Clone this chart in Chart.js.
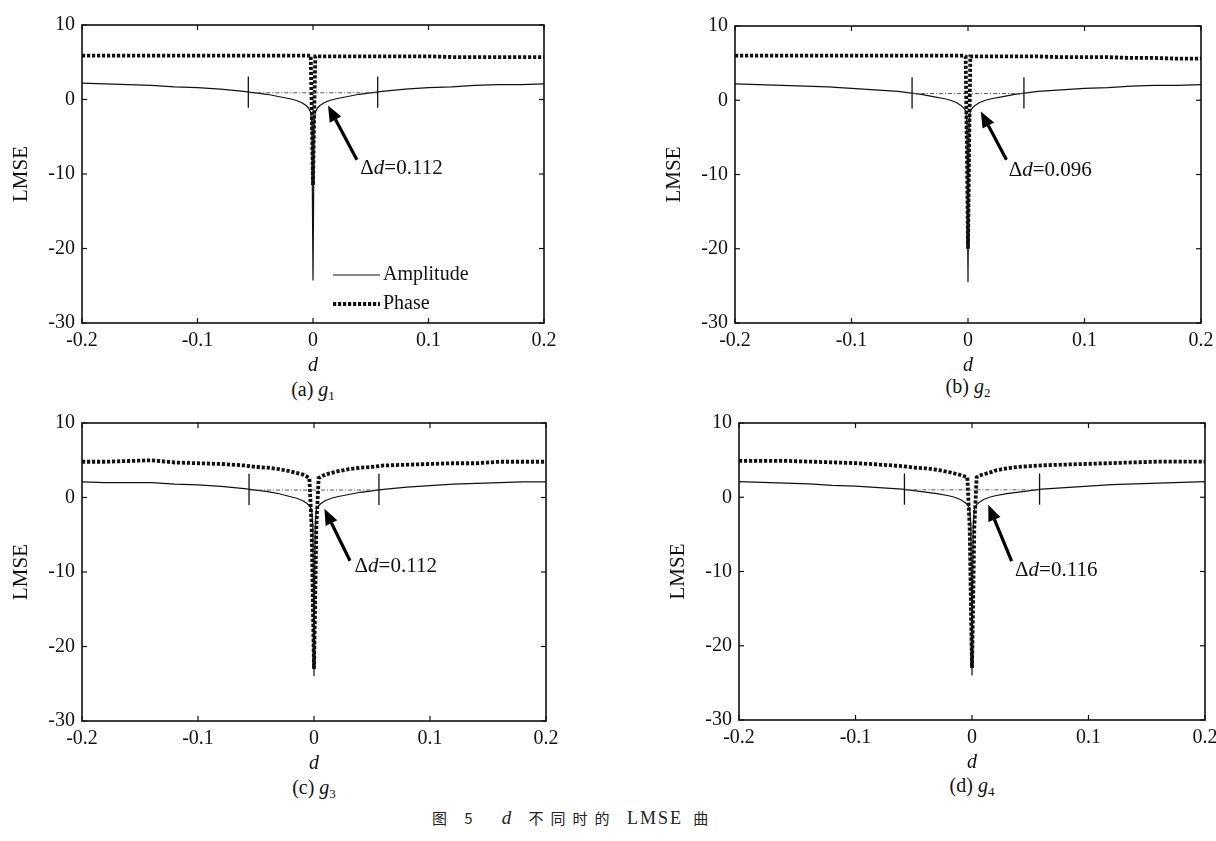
<!DOCTYPE html>
<html>
<head>
<meta charset="utf-8">
<script src="https://cdn.jsdelivr.net/npm/chart.js@4.4.1/dist/chart.umd.min.js"></script>
<style>
  html,body{margin:0;padding:0;background:#fff;}
  body{width:1216px;height:841px;position:relative;overflow:hidden;}
  canvas{position:absolute;}
  .cap{position:absolute;font-family:"Liberation Serif",serif;font-size:20px;color:#111;transform:translateX(-50%);white-space:nowrap;line-height:22px;}
  .cap sub{font-size:13px;vertical-align:-4px;line-height:0;}
  .title{position:absolute;font-family:"Noto Sans CJK SC",sans-serif;font-size:15px;color:#222;white-space:nowrap;letter-spacing:7px;line-height:20px;}
  .title i{font-family:"Liberation Serif",serif;font-size:19px;}
  .title .lat{font-family:"Liberation Serif",serif;font-size:18px;letter-spacing:2px;}
</style>
</head>
<body>
<div class="cap" style="left:313px;top:378px;">(a) <i>g</i><sub>1</sub></div>
<div class="cap" style="left:968px;top:375px;">(b) <i>g</i><sub>2</sub></div>
<div class="cap" style="left:314px;top:776px;">(c) <i>g</i><sub>3</sub></div>
<div class="cap" style="left:972px;top:774px;">(d) <i>g</i><sub>4</sub></div>
<div class="title" style="left:432px;top:808px;">图 5　<i>d</i> 不同时的 <span class="lat">LMSE</span> 曲</div>
<script>
// ---------- data ----------
const dValues = [-0.2,-0.18,-0.16,-0.14,-0.12,-0.1,-0.08,-0.06,-0.05,-0.04,-0.03,-0.02,-0.015,-0.01,-0.006,-0.004,-0.002,-0.001,0,0.001,0.002,0.004,0.006,0.01,0.015,0.02,0.03,0.04,0.05,0.06,0.08,0.1,0.12,0.14,0.16,0.18,0.2];

const ampA   = [2.2,2.1,2.0,1.9,1.7,1.6,1.4,1.1,0.9,0.7,0.4,0.1,-0.1,-0.4,-0.8,-1.1,-1.7,-3.0,-24.3,-3.0,-1.7,-1.1,-0.8,-0.4,-0.1,0.1,0.4,0.7,0.9,1.1,1.4,1.6,1.7,1.9,2.0,2.0,2.1];
const phaseA = [5.9,5.9,5.9,5.9,5.9,5.9,5.9,5.9,5.9,5.9,5.9,5.9,5.9,5.9,5.9,5.9,5.9,-2.0,-11.5,-2.0,5.8,5.8,5.8,5.8,5.8,5.8,5.8,5.8,5.8,5.8,5.8,5.8,5.7,5.7,5.7,5.7,5.7];

const ampB   = [2.2,2.1,2.0,1.9,1.8,1.6,1.4,1.2,1.0,0.8,0.5,0.2,0.0,-0.3,-0.7,-1.0,-1.4,-3.0,-24.5,-3.0,-1.4,-1.0,-0.7,-0.3,0.0,0.2,0.5,0.8,1.0,1.2,1.4,1.6,1.7,1.9,2.0,2.0,2.1];
const phaseB = [6.0,6.0,6.0,6.0,6.0,6.0,6.0,6.0,6.0,6.0,6.0,6.0,6.0,6.0,6.0,6.0,5.9,-6.0,-20.0,-6.0,5.9,5.9,5.9,5.9,5.9,5.9,5.9,5.9,5.9,5.9,5.8,5.8,5.8,5.7,5.7,5.6,5.6];

const ampC   = [2.1,2.0,2.0,2.0,1.8,1.7,1.5,1.2,1.0,0.8,0.5,0.1,-0.1,-0.4,-0.8,-1.1,-1.6,-4.0,-24.0,-4.0,-1.6,-1.1,-0.8,-0.4,-0.1,0.1,0.4,0.7,0.9,1.1,1.4,1.6,1.8,1.9,2.0,2.1,2.1];
const phaseC = [4.8,4.8,4.9,5.0,4.7,4.6,4.5,4.3,4.1,4.0,3.8,3.5,3.3,3.1,2.8,2.6,-4.0,-14.0,-23.0,-14.0,-4.0,2.6,2.8,3.1,3.3,3.5,3.8,4.0,4.1,4.3,4.4,4.5,4.6,4.6,4.8,4.8,4.8];

const ampD   = [2.1,2.0,1.9,1.8,1.6,1.5,1.3,1.1,0.9,0.7,0.5,0.2,0.0,-0.3,-0.7,-1.0,-1.5,-4.0,-24.0,-4.0,-1.5,-1.0,-0.7,-0.3,0.0,0.2,0.5,0.7,0.9,1.1,1.3,1.5,1.7,1.8,1.9,2.0,2.1];
const phaseD = [4.9,4.9,4.9,4.8,4.7,4.6,4.4,4.2,4.0,3.9,3.7,3.4,3.2,3.0,2.8,2.7,-4.0,-14.0,-23.0,-14.0,-4.0,2.7,2.9,3.1,3.3,3.6,3.9,4.1,4.2,4.3,4.4,4.5,4.6,4.7,4.8,4.8,4.8];

const xTicks = [-0.2,-0.1,0,0.1,0.2];
const yTicks = [-30,-20,-10,0,10];
const xTickLabels = ['-0.2','-0.1','0','0.1','0.2'];
const yTickLabels = ['-30','-20','-10','0','10'];

const deltaD      = [0.112, 0.096, 0.112, 0.116];   // marker spacing (Δd)
const markerLevel = [0.9, 0.9, 1.0, 1.0];           // level of the dash-dot line
const seriesNames = ['Amplitude','Phase'];

// annotation geometry (data coordinates): arrow tip, arrow tail, label anchor
const arrowTip  = [[0.013,-0.8],[0.011,-1.5],[0.009,-1.5],[0.014,-1.0]];
const arrowTail = [[0.038,-8.1],[0.033,-8.0],[0.031,-8.5],[0.034,-8.6]];
const labelAt   = [[0.041,-9.3],[0.035,-9.5],[0.035,-9.3],[0.037,-9.9]];

// ---------- layout ----------
const FONT = '"Liberation Serif", "Times New Roman", serif';
const panels = [
  {amp:ampA, phase:phaseA, left:82,  top:16,  w:462, h:307, legend:true},
  {amp:ampB, phase:phaseB, left:735, top:17,  w:466, h:306, legend:false},
  {amp:ampC, phase:phaseC, left:82,  top:414, w:464, h:307, legend:false},
  {amp:ampD, phase:phaseD, left:739, top:414, w:466, h:306, legend:false}
];
const YW = 73, XH = 55, PT = 10, PR = 22;

function line(ctx,x1,y1,x2,y2){ctx.beginPath();ctx.moveTo(x1,y1);ctx.lineTo(x2,y2);ctx.stroke();}

const annotPlugin = {
  id:'annot',
  afterDatasetsDraw(chart, args, o){
    const {ctx, chartArea:a, scales:{x,y}} = chart;
    const i = o.idx;
    ctx.save();
    // dash-dot reference line between markers
    const half = deltaD[i]/2;
    ctx.strokeStyle = '#555'; ctx.lineWidth = 1; ctx.setLineDash([4,2,1,2]);
    line(ctx, x.getPixelForValue(-half), y.getPixelForValue(markerLevel[i]), x.getPixelForValue(half), y.getPixelForValue(markerLevel[i]));
    ctx.setLineDash([]);
    // vertical markers
    ctx.strokeStyle = '#111'; ctx.lineWidth = 1.3;
    [-half, half].forEach(v=>{
      const px = x.getPixelForValue(v);
      line(ctx, px, y.getPixelForValue(markerLevel[i]+2.2), px, y.getPixelForValue(markerLevel[i]-2.0));
    });
    // arrow
    const tx = x.getPixelForValue(arrowTip[i][0]), ty = y.getPixelForValue(arrowTip[i][1]);
    const sx = x.getPixelForValue(arrowTail[i][0]), sy = y.getPixelForValue(arrowTail[i][1]);
    const ang = Math.atan2(ty-sy, tx-sx);
    const hl = 16, hw = 6.5;
    const bx = tx - hl*Math.cos(ang), by = ty - hl*Math.sin(ang);
    ctx.strokeStyle = '#000'; ctx.lineWidth = 3.2;
    line(ctx, sx, sy, bx, by);
    ctx.fillStyle = '#000';
    ctx.beginPath();
    ctx.moveTo(tx,ty);
    ctx.lineTo(bx + hw*Math.sin(ang), by - hw*Math.cos(ang));
    ctx.lineTo(bx - hw*Math.sin(ang), by + hw*Math.cos(ang));
    ctx.closePath(); ctx.fill();
    // Δd label
    let lx = x.getPixelForValue(labelAt[i][0]); const ly = y.getPixelForValue(labelAt[i][1]);
    ctx.textBaseline = 'middle'; ctx.textAlign = 'left'; ctx.fillStyle = '#111';
    ctx.font = '21px ' + FONT; ctx.fillText('Δ', lx, ly); lx += ctx.measureText('Δ').width;
    ctx.font = 'italic 21px ' + FONT; ctx.fillText('d', lx, ly); lx += ctx.measureText('d').width;
    ctx.font = '21px ' + FONT; ctx.fillText('=' + deltaD[i].toFixed(3), lx, ly);
    // legend
    if (o.legend){
      const ds = chart.data.datasets;
      const x1 = a.left + 251, x2 = a.left + 298;
      [[ds[0], a.top+250],[ds[1], a.top+279]].forEach(([d,yy])=>{
        ctx.strokeStyle = d.borderColor; ctx.lineWidth = d.borderWidth;
        ctx.setLineDash(d.borderDash || []); ctx.lineCap = 'butt';
        line(ctx, x1, yy, x2, yy);
        ctx.setLineDash([]);
        ctx.font = '20px ' + FONT; ctx.fillStyle = '#111'; ctx.textBaseline='middle';
        ctx.fillText(d.label, x2 + 3, yy);
      });
    }
    // box and inward ticks
    ctx.strokeStyle = '#111'; ctx.lineWidth = 1.6;
    ctx.strokeRect(a.left, a.top, a.right-a.left, a.bottom-a.top);
    ctx.lineWidth = 1.2;
    xTicks.forEach(v=>{ const px = x.getPixelForValue(v);
      line(ctx, px, a.bottom, px, a.bottom-5); line(ctx, px, a.top, px, a.top+5); });
    yTicks.forEach(v=>{ const py = y.getPixelForValue(v);
      line(ctx, a.left, py, a.left+5, py); line(ctx, a.right, py, a.right-5, py); });
    ctx.restore();
  }
};

panels.forEach((p, idx)=>{
  const c = document.createElement('canvas');
  const W = YW + p.w + PR, H = PT + p.h + XH;
  c.width = W; c.height = H;
  c.style.left = (p.left - YW) + 'px'; c.style.top = (p.top - PT) + 'px';
  c.style.width = W + 'px'; c.style.height = H + 'px';
  document.body.appendChild(c);
  new Chart(c.getContext('2d'), {
    type:'line',
    data:{ datasets:[
      {label:seriesNames[0], data:dValues.map((d,k)=>({x:d,y:p.amp[k]})), borderColor:'#111', borderWidth:1.2, pointRadius:0, tension:0, order:1},
      {label:seriesNames[1], data:dValues.map((d,k)=>({x:d,y:p.phase[k]})), borderColor:'#111', borderWidth:3.8, borderDash:[3.2,1.8], borderCapStyle:'butt', pointRadius:0, tension:0, order:2}
    ]},
    options:{
      responsive:false, animation:false, devicePixelRatio:1,
      layout:{padding:{top:PT, right:PR, left:0, bottom:0}},
      plugins:{legend:{display:false}, tooltip:{enabled:false}, annot:{idx, legend:p.legend}},
      scales:{
        x:{type:'linear', min:-0.2, max:0.2,
           afterBuildTicks:s=>{s.ticks = xTicks.map(v=>({value:v}));},
           afterFit:s=>{s.height = XH;},
           grid:{display:false, drawTicks:false}, border:{display:false},
           ticks:{color:'#111', padding:6, font:{family:FONT, size:20}, maxRotation:0,
                  callback:(v)=>xTickLabels[xTicks.findIndex(t=>Math.abs(t-v)<1e-9)]},
           title:{display:true, text:'d', color:'#111', padding:{top:0,bottom:0}, font:{family:FONT, size:20, style:'italic'}}},
        y:{type:'linear', min:-30, max:10,
           afterBuildTicks:s=>{s.ticks = yTicks.map(v=>({value:v}));},
           afterFit:s=>{s.width = YW;},
           grid:{display:false, drawTicks:false}, border:{display:false},
           ticks:{color:'#111', padding:7, font:{family:FONT, size:20},
                  callback:(v)=>yTickLabels[yTicks.findIndex(t=>Math.abs(t-v)<1e-9)]},
           title:{display:true, text:'LMSE', color:'#111', padding:{top:0,bottom:0}, font:{family:FONT, size:21}}}
      }
    },
    plugins:[annotPlugin]
  });
});
</script>
</body>
</html>
